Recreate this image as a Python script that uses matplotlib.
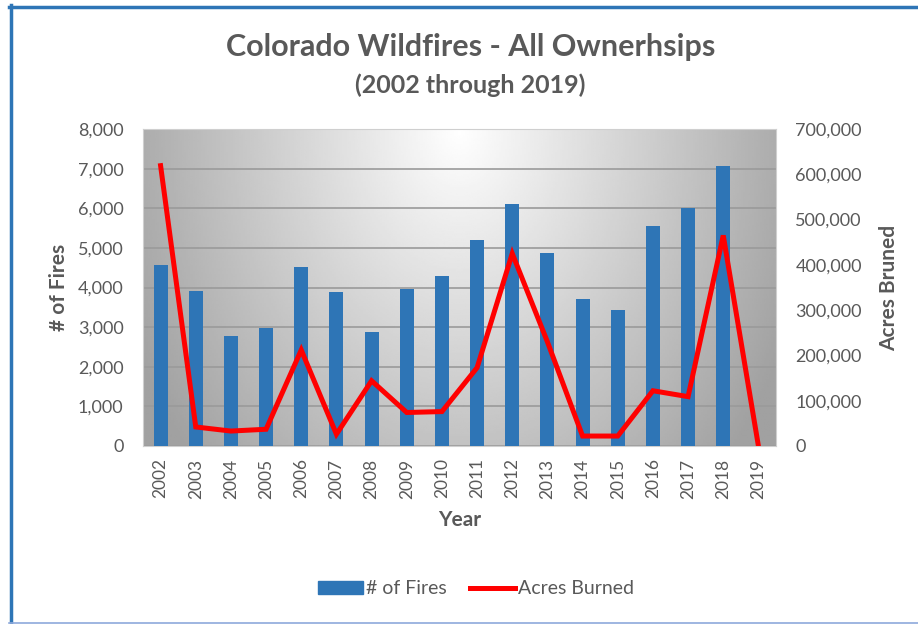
import numpy as np
import matplotlib
matplotlib.use("Agg")
import matplotlib.pyplot as plt
from matplotlib.lines import Line2D
from matplotlib.patches import Patch
from matplotlib.ticker import FuncFormatter

plt.rcParams['font.family'] = ['Lato', 'DejaVu Sans']

# data
years = [str(y) for y in range(2002, 2020)]
fires = [4560, 3920, 2780, 2970, 4520, 3880, 2880, 3960, 4290,
         5200, 6110, 4880, 3700, 3420, 5560, 6010, 7060, 0]
acres = [619000, 42000, 33000, 37000, 212000, 26000, 144000, 74000, 76000,
         173000, 425000, 230000, 22000, 22000, 122000, 109000, 465000, 0]

W, H = 918, 624
fig = plt.figure(figsize=(W / 100, H / 100), dpi=100)
grey = '#595959'

pos = [143 / W, 1 - 446 / H, (776 - 143) / W, (446 - 129) / H]

# gradient plot area background
bg = fig.add_axes(pos)
gx, gy = np.meshgrid(np.linspace(0, 1, 300), np.linspace(0, 1, 200))
d = np.sqrt(((gx - 0.5) / 0.5) ** 2 + 0.55 * (1 - gy) ** 2)
d = np.clip(d, 0, 1.15)
shade = (255 - 82 * d) / 255
bg.imshow(shade, cmap='gray', vmin=0, vmax=1, origin='lower',
          extent=[0, 1, 0, 1], aspect='auto', interpolation='bilinear')
bg.axis('off')

ax = fig.add_axes(pos)
ax.patch.set_alpha(0)
x = np.arange(len(years))
ax.bar(x, fires, width=0.4, color='#2E75B6', zorder=3)
ax.set_xlim(-0.5, len(years) - 0.5)
ax.set_ylim(0, 8000)
ax.set_yticks(np.arange(0, 8001, 1000))
ax.yaxis.set_major_formatter(FuncFormatter(lambda v, p: f'{int(v):,}'))
ax.grid(axis='y', color='#9a9a9a', linewidth=1.2)
ax.set_axisbelow(True)
ax.set_xticks(x)
ax.set_xticklabels(years, rotation=90)
ax.tick_params(length=0, colors=grey, labelsize=13)
ax.tick_params(axis='x', labelsize=12.5, pad=9)
ax.tick_params(axis='y', pad=14)
for s in ax.spines.values():
    s.set_color('#cfcfcf')
ax.set_ylabel('# of Fires', fontsize=15, fontweight='bold', color=grey, labelpad=6)
ax.set_xlabel('Year', fontsize=15, fontweight='bold', color=grey, labelpad=8)

ax2 = ax.twinx()
ax2.plot(x, acres, color='#FF0000', linewidth=3.6, solid_joinstyle='miter', zorder=4)
ax2.set_ylim(0, 700000)
ax2.set_yticks(np.arange(0, 700001, 100000))
ax2.yaxis.set_major_formatter(FuncFormatter(lambda v, p: f'{int(v):,}'))
ax2.tick_params(length=0, colors=grey, labelsize=13, pad=14)
for s in ax2.spines.values():
    s.set_visible(False)
ax2.set_ylabel('Acres Bruned', fontsize=15, fontweight='bold', color=grey, labelpad=12)

fig.text(471 / W, 1 - 47 / H, 'Colorado Wildfires - All Ownerhsips',
         ha='center', va='center', fontsize=22, fontweight='bold', color=grey)
fig.text(470 / W, 1 - 85 / H, '(2002 through 2019)',
         ha='center', va='center', fontsize=18, fontweight='bold', color=grey)

handles = [Patch(color='#2E75B6'), Line2D([0], [0], color='#FF0000', linewidth=3.6)]
fig.legend(handles, ['# of Fires', 'Acres Burned'], loc='center',
           bbox_to_anchor=(476 / W, 1 - 589 / H), ncol=2, frameon=False,
           fontsize=14, labelcolor=grey, handlelength=2.3, handleheight=0.6,
           handletextpad=0.15, columnspacing=1.2)

# frame lines of the screenshot
fig.add_artist(Line2D([10.5 / W, 10.5 / W], [0, 1 - 5 / H], color='#2E75B6', linewidth=2.5))
fig.add_artist(Line2D([9 / W, 1], [1 - 6.5 / H, 1 - 6.5 / H], color='#2E75B6', linewidth=2.5))
fig.add_artist(Line2D([9 / W, 1], [1.5 / H, 1.5 / H], color='#8EA9DB', linewidth=1.2))

fig.savefig('out.png', dpi=100)
